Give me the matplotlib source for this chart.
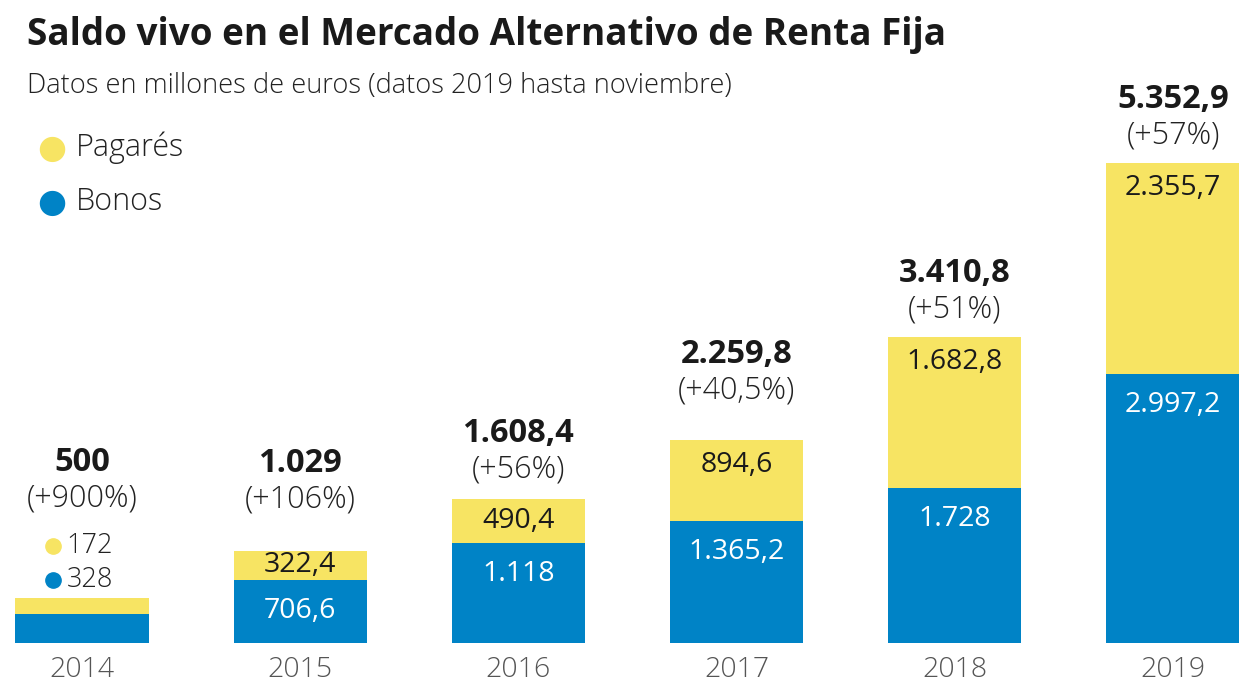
import matplotlib.pyplot as plt

years = ['2014', '2015', '2016', '2017', '2018', '2019']
pagares = [172, 322.4, 490.4, 894.6, 1682.8, 2355.7]
bonos = [328, 706.6, 1118, 1365.2, 1728, 2997.2]
growth = [900, 106, 56, 40.5, 51, 57]

YELLOW = '#f7e463'
BLUE = '#0083c6'
FONT = 'Open Sans'


def es(v):
    # formato español: 1.234,5
    if float(v).is_integer():
        s = f'{int(v):,}'
    else:
        s = f'{v:,.1f}'
    return s.replace(',', 'X').replace('.', ',').replace('X', '.')


totals = [p + b for p, b in zip(pagares, bonos)]

fig = plt.figure(figsize=(12.48, 6.98), dpi=100)
ax = fig.add_axes([0, 1 - 643 / 698, 1, 643 / 698])
ax.set_xlim(-0.376, 5.344)
ax.set_ylim(0, 7170)
ax.axis('off')

x = range(len(years))
ax.bar(x, bonos, width=0.61, color=BLUE)
ax.bar(x, pagares, bottom=bonos, width=0.61, color=YELLOW)

px = 7170 / 643  # data units per pixel

# offsets (pixels) of total label above bar top
tot_off = [136, 87, 65, 86, 64, 63]
for i in x:
    top = totals[i]
    ax.text(i, top + tot_off[i] * px, es(round(top, 1)), ha='center', va='center',
            fontsize=23.5, fontweight='bold', family=FONT, color='#1a1a1a')
    ax.text(i, top + (tot_off[i] - 36) * px, f'(+{es(growth[i])}%)', ha='center',
            va='center', fontsize=22, fontweight='light', family=FONT, color='#222222')
    ax.text(i, -27 * px, years[i], ha='center', va='center', fontsize=20.5,
            fontweight='light', family=FONT, color='#555555')
    if i == 0:
        continue
    # labels inside segments
    ph = pagares[i] / px
    bh = bonos[i] / px
    ax.text(i, top - min(ph / 2, 25) * px, es(pagares[i]), ha='center', va='center',
            fontsize=20.5, family=FONT, color='#1a1a1a')
    ax.text(i, bonos[i] - min(bh / 2, 31) * px, es(bonos[i]), ha='center', va='center',
            fontsize=20.5, family=FONT, color='white')

# mini legend for 2014
ax.plot(-0.133, totals[0] + 52 * px, 'o', ms=11, color=YELLOW)
ax.text(-0.07, totals[0] + 52 * px, es(pagares[0]), ha='left', va='center',
        fontsize=19.5, fontweight='light', family=FONT, color='#222222')
ax.plot(-0.133, totals[0] + 18 * px, 'o', ms=11, color=BLUE)
ax.text(-0.07, totals[0] + 18 * px, es(bonos[0]), ha='left', va='center',
        fontsize=19.5, fontweight='light', family=FONT, color='#222222')

fig.text(27 / 1248, 1 - 35 / 698, 'Saldo vivo en el Mercado Alternativo de Renta Fija',
         ha='left', va='center', fontsize=26.6, fontweight='bold', family=FONT,
         color='#1a1a1a')
fig.text(27 / 1248, 1 - 86 / 698, 'Datos en millones de euros (datos 2019 hasta noviembre)',
         ha='left', va='center', fontsize=19.6, fontweight='light', family=FONT,
         color='#222222')

fig.text(52 / 1248, 1 - 148 / 698, '●', ha='center', va='center', fontsize=24,
         color=YELLOW, family='DejaVu Sans')
fig.text(76 / 1248, 1 - 148 / 698, 'Pagarés', ha='left', va='center', fontsize=22,
         fontweight='light', family=FONT, color='#222222')
fig.text(52 / 1248, 1 - 202 / 698, '●', ha='center', va='center', fontsize=24,
         color=BLUE, family='DejaVu Sans')
fig.text(76 / 1248, 1 - 202 / 698, 'Bonos', ha='left', va='center', fontsize=22,
         fontweight='light', family=FONT, color='#222222')

fig.savefig('out.png', dpi=100)
